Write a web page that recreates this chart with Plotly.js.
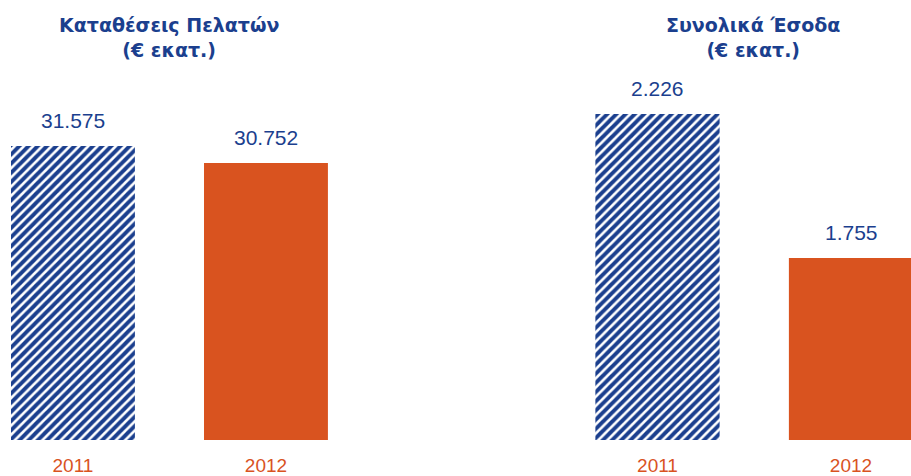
<!DOCTYPE html>
<html>
<head>
<meta charset="utf-8">
<script src="https://cdn.plot.ly/plotly-3.0.1.min.js"></script>
<style>html,body{margin:0;padding:0;background:#fff;}#chart{width:911px;height:476px;}</style>
</head>
<body>
<div id="chart"></div>
<script>
const years = ["2011", "2012"];
const deposits = [31575, 30752];
const revenues = [2226, 1755];
const depositLabels = ["31.575", "30.752"];
const revenueLabels = ["2.226", "1.755"];
const titles = ["<b>Καταθέσεις Πελατών</b><br><b>(€ εκατ.)</b>", "<b>Συνολικά Έσοδα</b><br><b>(€ εκατ.)</b>"];

const BLUE = "#1b3f8e";
const ORANGE = "#d9531f";
const FONT = "Liberation Sans, Arial, sans-serif";
const TFONT = "DejaVu Sans, sans-serif";

function barTrace(vals, xa, ya) {
  return {
    type: "bar", x: years, y: vals, xaxis: xa, yaxis: ya,
    width: 0.642,
    marker: {
      color: [BLUE, ORANGE],
      line: {width: 0},
      pattern: {shape: ["/", ""], fgcolor: BLUE, bgcolor: "#ffffff", size: 6.5, solidity: 0.6}
    },
    hoverinfo: "none", showlegend: false
  };
}

const data = [barTrace(deposits, "x", "y"), barTrace(revenues, "x2", "y2")];

const annotations = [];
years.forEach((yr, i) => {
  annotations.push({x: i, y: deposits[i], xref: "x", yref: "y", text: depositLabels[i],
    showarrow: false, yanchor: "bottom", yshift: 12, font: {family: FONT, size: 21, color: BLUE}});
  annotations.push({x: i, y: revenues[i], xref: "x2", yref: "y2", text: revenueLabels[i],
    showarrow: false, yanchor: "bottom", yshift: 12, font: {family: FONT, size: 21, color: BLUE}});
});
annotations.push({x: 0.186, xref: "paper", y: 1, yref: "paper", text: titles[0], showarrow: false,
  xanchor: "center", yanchor: "top", yshift: -12, font: {family: TFONT, size: 19, color: BLUE}});
annotations.push({x: 0.827, xref: "paper", y: 1, yref: "paper", text: titles[1], showarrow: false,
  xanchor: "center", yanchor: "top", yshift: -12, font: {family: TFONT, size: 19, color: BLUE}});

const xbase = {type: "category", showgrid: false, zeroline: false, showline: false,
  ticks: "", ticklabelstandoff: 12, tickfont: {family: FONT, size: 19, color: ORANGE}, fixedrange: true};

const layout = {
  width: 911, height: 476,
  margin: {l: 0, r: 0, t: 0, b: 36, pad: 0},
  paper_bgcolor: "#fff", plot_bgcolor: "#fff",
  xaxis: Object.assign({}, xbase, {domain: [0, 0.4], range: [-0.378, 1.510], anchor: "y"}),
  xaxis2: Object.assign({}, xbase, {domain: [0.6, 1], range: [-0.573, 1.310], anchor: "y2"}),
  yaxis: {domain: [0, 1], range: [17344, 38641], visible: false, fixedrange: true, anchor: "x"},
  yaxis2: {domain: [0, 1], range: [1159.6, 2598.9], visible: false, anchor: "x2", fixedrange: true},
  annotations: annotations
};

Plotly.newPlot("chart", data, layout, {displayModeBar: false, staticPlot: true});
</script>
</body>
</html>
